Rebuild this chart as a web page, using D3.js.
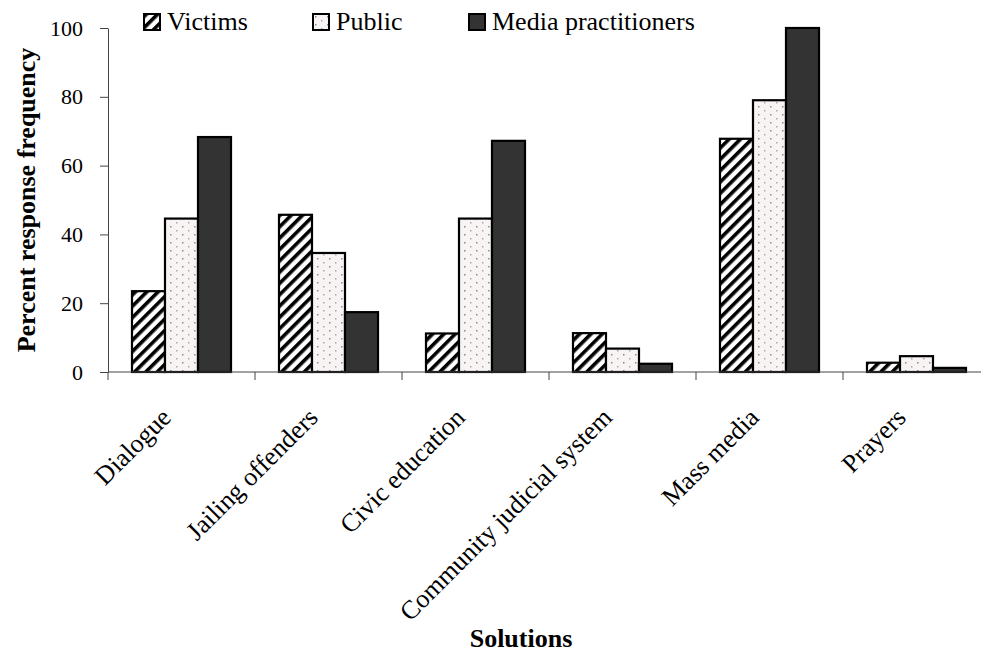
<!DOCTYPE html>
<html>
<head>
<meta charset="utf-8">
<script src="https://cdn.jsdelivr.net/npm/d3@7"></script>
<style>
  body { margin: 0; background: #fff; }
  svg { display: block; font-family: "Liberation Serif", "Times New Roman", serif; }
</style>
</head>
<body>
<div id="chart"></div>
<script>
const categories = ['Dialogue', 'Jailing offenders', 'Civic education', 'Community judicial system', 'Mass media', 'Prayers'];
const seriesNames = ['Victims', 'Public', 'Media practitioners'];
const victims = [23.5, 45.7, 11.2, 11.3, 67.8, 2.7];
const publicVals = [44.6, 34.6, 44.6, 6.8, 79.0, 4.6];
const media = [68.3, 17.4, 67.2, 2.4, 100, 1.2];
const yTicks = [0, 20, 40, 60, 80, 100];

const W = 981, H = 655;
const margin = { top: 28, left: 108, bottom: 283 };
const plotH = H - margin.top - margin.bottom;
const bandW = 147;

const svg = d3.select('#chart').append('svg')
  .attr('width', W).attr('height', H);

const defs = svg.append('defs');
const hatch = defs.append('pattern')
  .attr('id', 'hatch').attr('patternUnits', 'userSpaceOnUse')
  .attr('width', 8).attr('height', 8)
  .attr('patternTransform', 'rotate(45)');
hatch.append('rect').attr('width', 8).attr('height', 8).attr('fill', '#fff');
hatch.append('rect').attr('width', 3.6).attr('height', 8).attr('fill', '#000');

const dots = defs.append('pattern')
  .attr('id', 'dots').attr('patternUnits', 'userSpaceOnUse')
  .attr('width', 12).attr('height', 8);
dots.append('rect').attr('width', 12).attr('height', 8).attr('fill', '#f8f4f4');
dots.append('rect').attr('x', 2).attr('y', 2).attr('width', 1.5).attr('height', 1.5).attr('fill', '#8a8a8a');
dots.append('rect').attr('x', 8).attr('y', 6).attr('width', 1.5).attr('height', 1.5).attr('fill', '#a8a8a8');

const fills = ['url(#hatch)', 'url(#dots)', '#333333'];

const x = d3.scaleBand().domain(categories)
  .range([margin.left, margin.left + bandW * categories.length])
  .paddingInner(0).paddingOuter(0);
const xs = d3.scaleBand().domain(seriesNames)
  .range([0, x.bandwidth()]).paddingOuter(0.727).paddingInner(0);
const y = d3.scaleLinear().domain([0, 100]).range([margin.top + plotH, margin.top]);

const data = categories.map((c, i) => ({ cat: c, vals: [victims[i], publicVals[i], media[i]] }));

// bars
const groups = svg.selectAll('.grp').data(data).enter().append('g')
  .attr('class', 'grp')
  .attr('transform', d => `translate(${x(d.cat)},0)`);
groups.selectAll('rect')
  .data(d => d.vals.map((v, k) => ({ s: seriesNames[k], v, k })))
  .enter().append('rect')
  .attr('x', d => xs(d.s))
  .attr('y', d => y(d.v))
  .attr('width', xs.bandwidth())
  .attr('height', d => y(0) - y(d.v))
  .attr('fill', d => fills[d.k])
  .attr('stroke', '#000').attr('stroke-width', 2.2);

// y axis
const yAxis = svg.append('g')
  .attr('transform', `translate(${margin.left},0)`)
  .call(d3.axisLeft(y).tickValues(yTicks).tickSize(8).tickSizeOuter(0).tickPadding(17));
yAxis.select('.domain').attr('stroke', '#444');
yAxis.selectAll('.tick line').attr('stroke', '#444');
yAxis.selectAll('text').attr('font-size', 22).attr('fill', '#000')
  .attr('font-family', '"Liberation Serif", serif');

// x axis
const xAxisG = svg.append('g').attr('transform', `translate(0,${y(0)})`);
xAxisG.append('line')
  .attr('x1', margin.left).attr('x2', W).attr('y1', 0).attr('y2', 0)
  .attr('stroke', '#444');
xAxisG.selectAll('.xt').data(categories).enter().append('line')
  .attr('x1', d => x(d)).attr('x2', d => x(d))
  .attr('y1', 0).attr('y2', 8).attr('stroke', '#444');
xAxisG.selectAll('.xl').data(categories).enter().append('text')
  .attr('transform', d => `translate(${x(d) + x.bandwidth() / 2 - 9},${47}) rotate(-45)`)
  .attr('text-anchor', 'end')
  .attr('font-size', 26)
  .text(d => d);

// axis titles
svg.append('text')
  .attr('transform', `translate(35,200) rotate(-90)`)
  .attr('text-anchor', 'middle')
  .attr('font-size', 26).attr('font-weight', 'bold')
  .text('Percent response frequency');
svg.append('text')
  .attr('x', 521).attr('y', 647)
  .attr('text-anchor', 'middle')
  .attr('font-size', 26).attr('font-weight', 'bold')
  .text('Solutions');

// legend
const legX = [144, 313, 469];
const leg = svg.selectAll('.leg').data(seriesNames).enter().append('g')
  .attr('transform', (d, i) => `translate(${legX[i]},14)`);
leg.append('rect')
  .attr('width', 16).attr('height', 16)
  .attr('fill', (d, i) => fills[i])
  .attr('stroke', '#000').attr('stroke-width', 2);
leg.append('text')
  .attr('x', 23).attr('y', 16)
  .attr('font-size', 26)
  .text(d => d);
</script>
</body>
</html>
